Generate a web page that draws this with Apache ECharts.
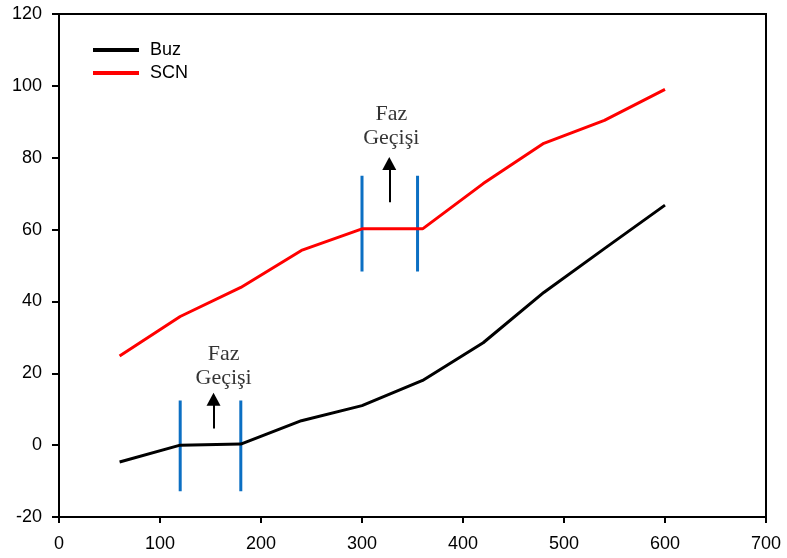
<!DOCTYPE html>
<html>
<head>
<meta charset="utf-8">
<script src="https://cdn.jsdelivr.net/npm/echarts@6/dist/echarts.min.js"></script>
<style>
  html, body { margin: 0; padding: 0; background: #fff; }
  #chart { width: 787px; height: 558px; }
</style>
</head>
<body>
<div id="chart"></div>
<script>
// Temperature-style readings against time for ice (Buz) and SCN
const xValues   = [60, 120, 180, 240, 300, 360, 420, 480, 540, 600];
const buzValues = [-4.7, 0.0, 0.3, 6.8, 11.0, 18.0, 28.5, 42.5, 54.7, 66.8];
const scnValues = [24.8, 35.8, 43.9, 54.2, 60.2, 60.2, 72.8, 84.0, 90.4, 99.0];

// Phase-transition markers: vertical bounds, arrows and captions
const buzBounds = [120, 180];
const buzBoundRange = [-12.8, 12.4];
const scnBounds = [300, 355];
const scnBoundRange = [48.3, 75.0];
const arrows = [
  { x: 153, from: 4.6, to: 12.8 },
  { x: 327, from: 67.6, to: 78.4 }
];
const captions = [
  { x: 163, y: 21.9, text: 'Faz\nGeçişi' },
  { x: 329, y: 88.9, text: 'Faz\nGeçişi' }
];

const xTicks = { min: 0, max: 700, interval: 100 };
const yTicks = { min: -20, max: 120, interval: 20 };

const toPairs = (xs, ys) => xs.map((x, i) => [x, ys[i]]);
const blue = '#0B6FC3';
const labelFont = 'Liberation Sans, Arial, sans-serif';

function boundSeries(bounds, range) {
  return bounds.map(b => ({
    type: 'line',
    data: [[b, range[0]], [b, range[1]]],
    showSymbol: false,
    silent: true,
    lineStyle: { color: blue, width: 3 },
    z: 3
  }));
}

const chart = echarts.init(document.getElementById('chart'));
chart.setOption({
  animation: false,
  backgroundColor: '#fff',
  grid: {
    left: 59, right: 21, top: 14, bottom: 41,
    show: true, borderColor: '#000', borderWidth: 2
  },
  legend: {
    data: ['Buz', 'SCN'],
    orient: 'vertical',
    left: 88, top: 36,
    itemWidth: 46, itemHeight: 4,
    itemGap: 5,
    icon: 'rect',
    textStyle: { color: '#000', fontSize: 18, fontFamily: labelFont, padding: [0, 0, 0, 6] }
  },
  xAxis: {
    type: 'value',
    min: xTicks.min, max: xTicks.max, interval: xTicks.interval,
    splitLine: { show: false },
    axisLine: { onZero: false, lineStyle: { color: '#000', width: 2 } },
    axisTick: { inside: false, length: 6, lineStyle: { color: '#000', width: 2 } },
    axisLabel: { color: '#000', fontSize: 18, fontFamily: labelFont, margin: 18 }
  },
  yAxis: {
    type: 'value',
    min: yTicks.min, max: yTicks.max, interval: yTicks.interval,
    splitLine: { show: false },
    axisLine: { onZero: false, lineStyle: { color: '#000', width: 2 } },
    axisTick: { inside: false, length: 7, lineStyle: { color: '#000', width: 2 } },
    axisLabel: { color: '#000', fontSize: 18, fontFamily: labelFont, margin: 17 }
  },
  series: [
    {
      name: 'Buz', type: 'line', data: toPairs(xValues, buzValues),
      showSymbol: false, color: '#000', lineStyle: { color: '#000', width: 3 }, z: 4
    },
    {
      name: 'SCN', type: 'line', data: toPairs(xValues, scnValues),
      showSymbol: false, color: '#ff0000', lineStyle: { color: '#ff0000', width: 3 }, z: 4
    },
    ...boundSeries(buzBounds, buzBoundRange),
    ...boundSeries(scnBounds, scnBoundRange),
    {
      type: 'scatter',
      data: captions.map(c => ({ value: [c.x, c.y], text: c.text })),
      symbolSize: 0,
      silent: true,
      label: {
        show: true, position: 'inside',
        formatter: p => p.data.text,
        color: '#000', fontSize: 22, lineHeight: 24,
        textBorderWidth: 0,
        fontFamily: 'Liberation Serif, Times New Roman, serif'
      },
      markLine: {
        silent: true,
        symbol: ['none', 'triangle'],
        symbolSize: [14, 13],
        label: { show: false },
        lineStyle: { color: '#000', width: 2, type: 'solid' },
        data: arrows.map(a => [{ coord: [a.x, a.from] }, { coord: [a.x, a.to] }])
      }
    }
  ]
});
</script>
</body>
</html>
